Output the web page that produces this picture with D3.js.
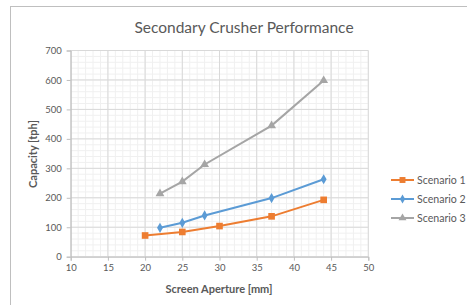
<!DOCTYPE html>
<html>
<head>
<meta charset="utf-8">
<script src="https://cdn.jsdelivr.net/npm/d3@7"></script>
<style>
  body { margin: 0; background: #fff; }
  text { font-family: "Lato", "Open Sans", sans-serif; fill: #595959; }
</style>
</head>
<body>
<script>
// data
var seriesNames = ["Scenario 1", "Scenario 2", "Scenario 3"];
var colors = ["#ED7D31", "#5B9BD5", "#A5A5A5"];
var s1x = [20, 25, 30, 37, 44];
var s1y = [72, 84, 104, 137, 193];
var s2x = [22, 25, 28, 37, 44];
var s2y = [98, 115, 140, 199, 263];
var s3x = [22, 25, 28, 37, 44];
var s3y = [214, 255, 313, 445, 598];
var xTicks = [10, 15, 20, 25, 30, 35, 40, 45, 50];
var yTicks = [0, 100, 200, 300, 400, 500, 600, 700];

var W = 467, H = 305;
var svg = d3.select("body").append("svg")
    .attr("width", W)
    .attr("height", H)

// chart border
svg.append("rect")
    .attr("x", 10.5).attr("y", 6.5)
    .attr("width", 500).attr("height", 400)
    .attr("fill", "none").attr("stroke", "#BFBFBF")

var x = d3.scaleLinear().domain([10, 50]).range([70.7, 368.3]);
var y = d3.scaleLinear().domain([0, 700]).range([256.7, 50.5]);

// minor grid
var g = svg.append("g")
g.selectAll("line.mx")
    .data(d3.range(10, 50.01, 1))
    .enter().append("line")
    .attr("x1", d => x(d)).attr("x2", d => x(d))
    .attr("y1", y(0)).attr("y2", y(700))
    .attr("stroke", "#F0F0F0").attr("stroke-width", 1)
g.selectAll("line.my")
    .data(d3.range(0, 700.01, 20))
    .enter().append("line")
    .attr("y1", d => y(d)).attr("y2", d => y(d))
    .attr("x1", x(10)).attr("x2", x(50))
    .attr("stroke", "#F0F0F0").attr("stroke-width", 1)

// major grid
g.selectAll("line.Mx")
    .data(xTicks)
    .enter().append("line")
    .attr("x1", d => x(d)).attr("x2", d => x(d))
    .attr("y1", y(0)).attr("y2", y(700))
    .attr("stroke", "#D9D9D9")
g.selectAll("line.My")
    .data(yTicks)
    .enter().append("line")
    .attr("y1", d => y(d)).attr("y2", d => y(d))
    .attr("x1", x(10)).attr("x2", x(50))
    .attr("stroke", "#D9D9D9")

// axes
var xAxis = svg.append("g")
    .attr("transform", "translate(0," + y(0) + ")")
    .call(d3.axisBottom(x).tickValues(xTicks).tickSize(4).tickPadding(4))
var yAxis = svg.append("g")
    .attr("transform", "translate(" + x(10) + ",0)")
    .call(d3.axisLeft(y).tickValues(yTicks).tickSize(4).tickPadding(5))
;[xAxis, yAxis].forEach(function(a) {
  a.select(".domain").attr("stroke", "#BFBFBF")
  a.selectAll(".tick line").attr("stroke", "#BFBFBF")
  a.selectAll("text").attr("font-size", 9.5).attr("fill", "#595959")
    .style("font-family", "Lato, sans-serif")
})

// title + axis titles
svg.append("text")
    .attr("x", 244).attr("y", 33)
    .attr("text-anchor", "middle")
    .attr("font-size", 15.5)
    .text("Secondary Crusher Performance")
svg.append("text")
    .attr("x", 219).attr("y", 293)
    .attr("text-anchor", "middle")
    .attr("font-size", 11).attr("font-weight", "bold")
    .text("Screen Aperture [mm]")
svg.append("text")
    .attr("transform", "translate(37,154) rotate(-90)")
    .attr("text-anchor", "middle")
    .attr("font-size", 11).attr("font-weight", "bold")
    .text("Capacity [tph]")

var series = [
  { xs: s1x, ys: s1y, sym: d3.symbolSquare, size: 44 },
  { xs: s2x, ys: s2y, sym: d3.symbolDiamond, size: 30 },
  { xs: s3x, ys: s3y, sym: d3.symbolTriangle, size: 34 }
]

var line = d3.line().x(d => x(d[0])).y(d => y(d[1]))

series.forEach(function(s, i) {
  var pts = s.xs.map((v, j) => [v, s.ys[j]])
  svg.append("path")
      .attr("d", line(pts))
      .attr("fill", "none")
      .attr("stroke", colors[i])
      .attr("stroke-width", 2)
  svg.selectAll(null)
      .data(pts)
      .enter().append("path")
      .attr("transform", d => "translate(" + x(d[0]) + "," + y(d[1]) + ")")
      .attr("d", d3.symbol().type(s.sym).size(s.size))
      .attr("fill", colors[i])

  // legend
  var ly = 180 + i * 19
  svg.append("line")
      .attr("x1", 391).attr("x2", 414)
      .attr("y1", ly).attr("y2", ly)
      .attr("stroke", colors[i]).attr("stroke-width", 2)
  svg.append("path")
      .attr("transform", "translate(402.5," + ly + ")")
      .attr("d", d3.symbol().type(s.sym).size(s.size * 0.8))
      .attr("fill", colors[i])
  svg.append("text")
      .attr("x", 417).attr("y", ly + 3.5)
      .attr("font-size", 10.6)
      .text(seriesNames[i])
})
</script>
</body>
</html>
